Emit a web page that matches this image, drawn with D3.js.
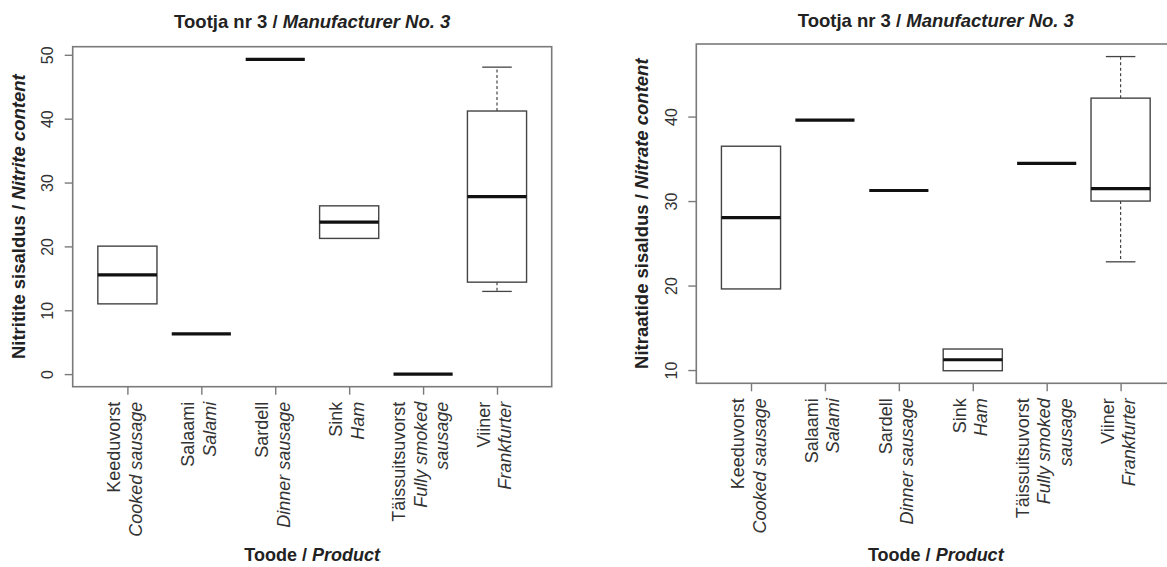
<!DOCTYPE html>
<html>
<head>
<meta charset="utf-8">
<script src="https://cdn.jsdelivr.net/npm/d3@7"></script>
<style>
  html, body { margin: 0; padding: 0; background: #fff; }
  svg { display: block; }
  text { font-family: "Liberation Sans", Arial, Helvetica, sans-serif; }
</style>
</head>
<body>
<svg id="chart" width="1167" height="567"></svg>
<script>
// ---- data ----
const categoriesEt = ["Keeduvorst", "Salaami", "Sardell", "Sink", "Täissuitsuvorst", "Viiner"];
const categoriesEn = [["Cooked sausage"], ["Salami"], ["Dinner sausage"], ["Ham"], ["Fully smoked", "sausage"], ["Frankfurter"]];

const nitriteMin    = [11.0, 6.3, 49.3, 21.25, 0, 12.95];
const nitriteQ1     = [11.0, 6.3, 49.3, 21.25, 0, 14.4];
const nitriteMedian = [15.55, 6.3, 49.3, 23.8, 0, 27.8];
const nitriteQ3     = [20.04, 6.3, 49.3, 26.35, 0, 41.2];
const nitriteMax    = [20.04, 6.3, 49.3, 26.35, 0, 48.07];

const nitrateMin    = [19.6, 39.57, 31.25, 9.92, 34.45, 22.81];
const nitrateQ1     = [19.6, 39.57, 31.25, 9.92, 34.45, 30.0];
const nitrateMedian = [28.03, 39.57, 31.25, 11.22, 34.45, 31.47];
const nitrateQ3     = [36.49, 39.57, 31.25, 12.49, 34.45, 42.18];
const nitrateMax    = [36.49, 39.57, 31.25, 12.49, 34.45, 47.1];

const nitriteTicks = [0, 10, 20, 30, 40, 50];
const nitrateTicks = [10, 20, 30, 40];

const titleEt = "Tootja nr 3 / ", titleEn = "Manufacturer No. 3";
const xLabelEt = "Toode / ", xLabelEn = "Product";
const yLabelNitriteEt = "Nitritite sisaldus / ", yLabelNitriteEn = "Nitrite content";
const yLabelNitrateEt = "Nitraatide sisaldus / ", yLabelNitrateEn = "Nitrate content";

// ---- drawing ----
const svg = d3.select("#chart");

function drawPanel(cfg) {
  const { x0, x1, y0, y1 } = cfg.frame;
  const n = categoriesEt.length;
  const xs = d3.scaleLinear().domain([0.5 - 0.04 * n, n + 0.5 + 0.04 * n]).range([x0, x1]);
  const lo = d3.min(cfg.min), hi = d3.max(cfg.max), r = hi - lo;
  const ys = d3.scaleLinear().domain([lo - 0.04 * r, hi + 0.04 * r]).range([y1, y0]);

  const g = svg.append("g");
  const boxW = 0.8, capW = 0.4;

  // boxes
  categoriesEt.forEach((c, i) => {
    const cx = i + 1;
    const bg = g.append("g");
    // whiskers
    if (cfg.max[i] > cfg.q3[i]) {
      bg.append("line").attr("x1", xs(cx)).attr("x2", xs(cx))
        .attr("y1", ys(cfg.q3[i])).attr("y2", ys(cfg.max[i]))
        .attr("stroke", "#444").attr("stroke-width", 1.2).attr("stroke-dasharray", "3,2.5");
      bg.append("line").attr("x1", xs(cx - capW / 2)).attr("x2", xs(cx + capW / 2))
        .attr("y1", ys(cfg.max[i])).attr("y2", ys(cfg.max[i]))
        .attr("stroke", "#444").attr("stroke-width", 1.3);
    }
    if (cfg.min[i] < cfg.q1[i]) {
      bg.append("line").attr("x1", xs(cx)).attr("x2", xs(cx))
        .attr("y1", ys(cfg.q1[i])).attr("y2", ys(cfg.min[i]))
        .attr("stroke", "#444").attr("stroke-width", 1.2).attr("stroke-dasharray", "3,2.5");
      bg.append("line").attr("x1", xs(cx - capW / 2)).attr("x2", xs(cx + capW / 2))
        .attr("y1", ys(cfg.min[i])).attr("y2", ys(cfg.min[i]))
        .attr("stroke", "#444").attr("stroke-width", 1.3);
    }
    if (cfg.q3[i] > cfg.q1[i]) {
      bg.append("rect").attr("x", xs(cx - boxW / 2)).attr("y", ys(cfg.q3[i]))
        .attr("width", xs(cx + boxW / 2) - xs(cx - boxW / 2))
        .attr("height", ys(cfg.q1[i]) - ys(cfg.q3[i]))
        .attr("fill", "none").attr("stroke", "#444").attr("stroke-width", 1.4);
    }
    bg.append("line").attr("x1", xs(cx - boxW / 2)).attr("x2", xs(cx + boxW / 2))
      .attr("y1", ys(cfg.median[i])).attr("y2", ys(cfg.median[i]))
      .attr("stroke", "#111").attr("stroke-width", 3.2);
  });

  // frame
  g.append("rect").attr("x", x0).attr("y", y0).attr("width", x1 - x0).attr("height", y1 - y0)
    .attr("fill", "none").attr("stroke", "#7a7a7a").attr("stroke-width", 1.6);

  // y axis
  const ya = g.append("g").attr("transform", `translate(${x0},0)`)
    .call(d3.axisLeft(ys).tickValues(cfg.ticks).tickSize(8).tickFormat(""));
  ya.select(".domain").remove();
  ya.selectAll(".tick line").attr("stroke", "#7a7a7a").attr("stroke-width", 1.4);
  ya.selectAll(".tick").append("text")
    .attr("transform", "translate(-19.5,0) rotate(-90)")
    .attr("text-anchor", "middle").attr("fill", "#333")
    .style("font-size", "16px").text(d => d);

  // x axis
  const xa = g.append("g").attr("transform", `translate(0,${y1})`)
    .call(d3.axisBottom(xs).tickValues(d3.range(1, n + 1)).tickSize(8).tickFormat(""));
  xa.select(".domain").remove();
  xa.selectAll(".tick line").attr("stroke", "#7a7a7a").attr("stroke-width", 1.4);
  const L = 21.5;
  xa.selectAll(".tick").each(function (d, i) {
    const lines = [{ t: categoriesEt[i], it: false }].concat(categoriesEn[i].map(t => ({ t, it: true })));
    const m = lines.length;
    lines.forEach((ln, k) => {
      const off = (k - (m - 1) / 2) * L + 3.25;
      d3.select(this).append("text")
        .attr("transform", `translate(${off},15) rotate(-90)`)
        .attr("text-anchor", "end").attr("fill", "#333")
        .style("font-size", "18px").style("font-style", ln.it ? "italic" : "normal")
        .text(ln.t);
    });
  });

  // title
  const cxm = (x0 + x1) / 2;
  const t = g.append("text").attr("x", cxm).attr("y", cfg.titleY).attr("text-anchor", "middle")
    .attr("fill", "#222").style("font-size", "18.5px").style("font-weight", "bold");
  t.append("tspan").text(titleEt);
  t.append("tspan").style("font-style", "italic").text(titleEn);

  // x label
  const xl = g.append("text").attr("x", cxm).attr("y", 561).attr("text-anchor", "middle")
    .attr("fill", "#222").style("font-size", "18px").style("font-weight", "bold");
  xl.append("tspan").text(xLabelEt);
  xl.append("tspan").style("font-style", "italic").text(xLabelEn);

  // y label
  const yl = g.append("text")
    .attr("transform", `translate(${x0 - 48},${(y0 + y1) / 2}) rotate(-90)`)
    .attr("text-anchor", "middle").attr("fill", "#222")
    .style("font-size", "18.5px").style("font-weight", "bold");
  yl.append("tspan").text(cfg.yEt);
  yl.append("tspan").style("font-style", "italic").text(cfg.yEn);
}

drawPanel({
  frame: { x0: 72.7, x1: 551.7, y0: 46.7, y1: 386.7 },
  min: nitriteMin, q1: nitriteQ1, median: nitriteMedian, q3: nitriteQ3, max: nitriteMax,
  ticks: nitriteTicks, titleY: 27.5, yEt: yLabelNitriteEt, yEn: yLabelNitriteEn
});
drawPanel({
  frame: { x0: 696.3, x1: 1175.3, y0: 44, y1: 383.3 },
  min: nitrateMin, q1: nitrateQ1, median: nitrateMedian, q3: nitrateQ3, max: nitrateMax,
  ticks: nitrateTicks, titleY: 26.5, yEt: yLabelNitrateEt, yEn: yLabelNitrateEn
});
</script>
</body>
</html>
